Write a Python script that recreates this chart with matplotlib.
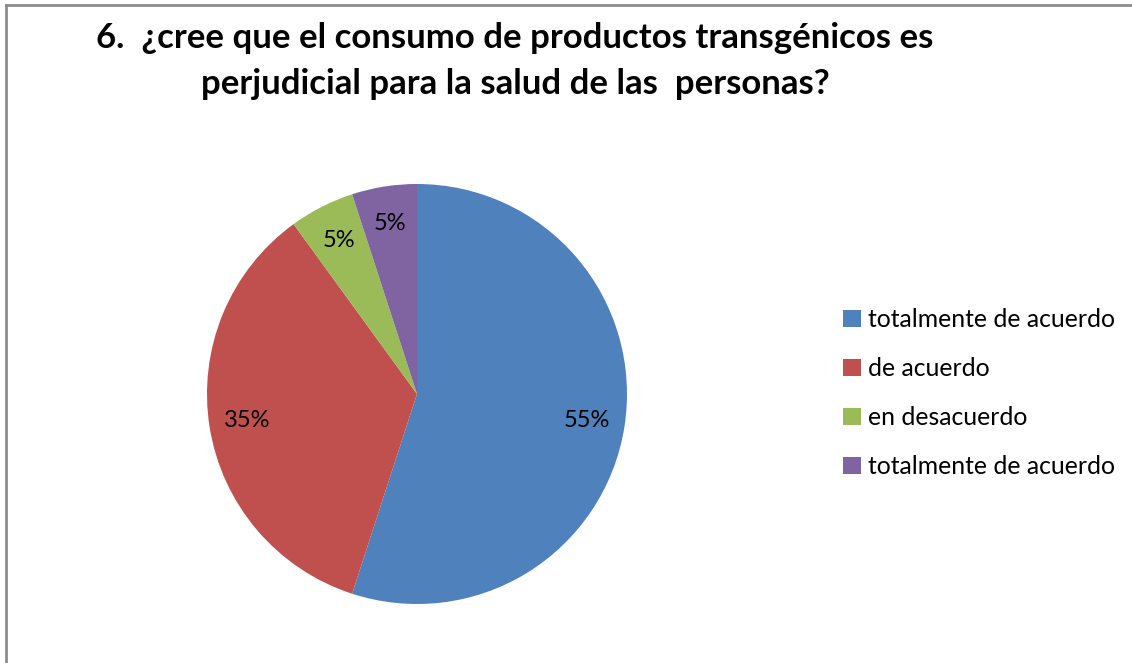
import matplotlib
matplotlib.use("Agg")
import matplotlib.pyplot as plt
from matplotlib.lines import Line2D

plt.rcParams['font.family'] = ['Lato', 'DejaVu Sans']

# data
labels = ["totalmente de acuerdo", "de acuerdo", "en desacuerdo", "totalmente de acuerdo"]
values = [55, 35, 5, 5]
colors = ["#4F81BD", "#C0504D", "#9BBB59", "#8064A2"]
title = "6.  ¿cree que el consumo de productos transgénicos es\nperjudicial para la salud de las  personas?"

W, H = 1132, 663
fig = plt.figure(figsize=(W / 100, H / 100), dpi=100)

# gray frame, only top and left edges show in the original
fig.add_artist(Line2D([5.5 / W, 5.5 / W], [0, 1 - 4.5 / H], transform=fig.transFigure,
                      color="#8c8c8c", linewidth=2))
fig.add_artist(Line2D([5.5 / W, 1.02], [1 - 4.5 / H, 1 - 4.5 / H], transform=fig.transFigure,
                      color="#8c8c8c", linewidth=2))

ax = fig.add_axes([(417 - 210) / W, (H - 604) / H, 420 / W, 420 / H])
wedges, texts, autotexts = ax.pie(values, colors=colors, startangle=90, counterclock=False,
                                  autopct="%1.0f%%", pctdistance=0.82,
                                  textprops={"fontsize": 17, "color": "black"})
ax.set_xlim(-1, 1)
ax.set_ylim(-1, 1)
ax.set_aspect("equal")

fig.text(515 / W, 1 - 61 / H, title, ha="center", va="center",
         fontsize=25, fontweight="bold", linespacing=1.5)

fig.legend(wedges, labels, loc="center left", bbox_to_anchor=(821 / W, 1 - 393 / H),
           frameon=False, fontsize=17.8, handlelength=0.7, handleheight=0.7,
           handletextpad=0.3, labelspacing=1.05)

fig.savefig("out.png", dpi=100)
